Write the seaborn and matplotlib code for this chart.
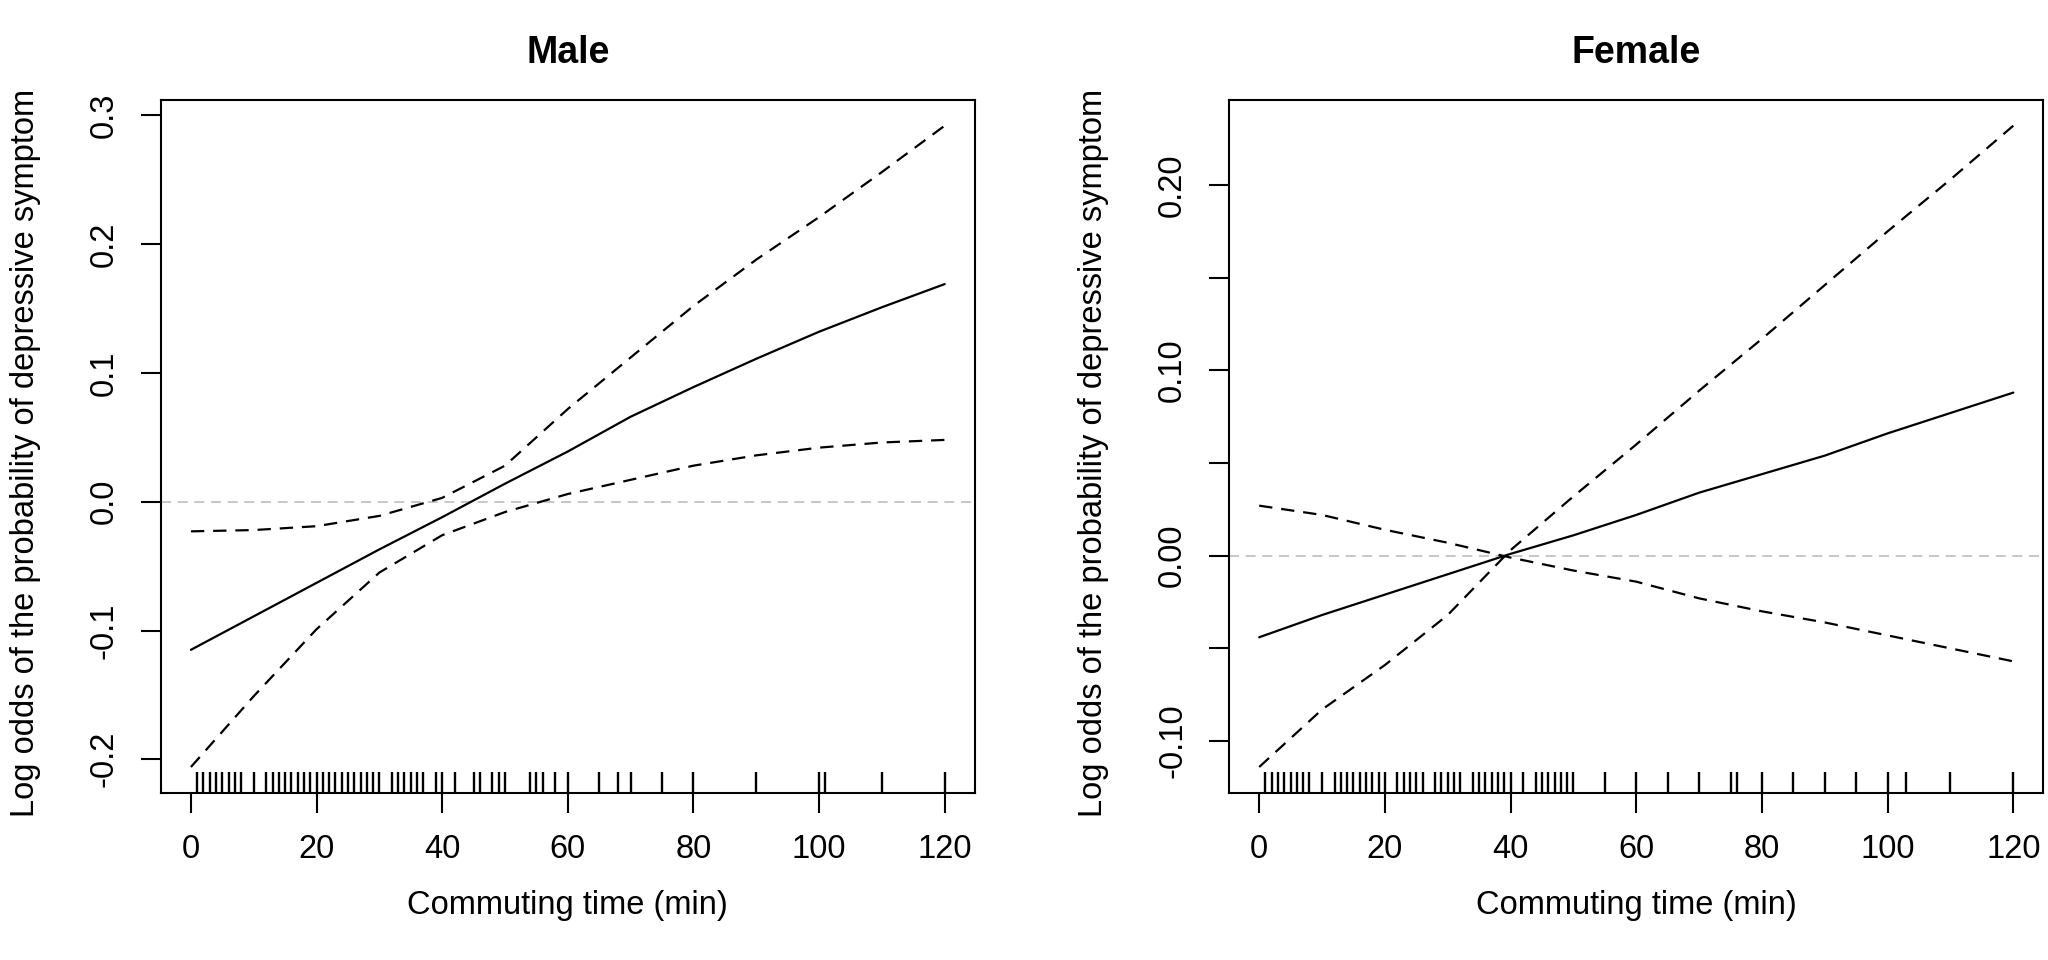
#Importing the Dependencies
import numpy as np
import pandas as pd
import matplotlib
matplotlib.use("Agg")
import matplotlib.pyplot as plt
import seaborn as sns

#Data
commute_min = [0, 10, 20, 30, 40, 50, 60, 70, 80, 90, 100, 110, 120]

male_fit = [-0.115, -0.089, -0.063, -0.037, -0.012, 0.014, 0.039, 0.066, 0.089, 0.111, 0.132, 0.151, 0.169]
male_upper = [-0.023, -0.022, -0.019, -0.011, 0.003, 0.028, 0.072, 0.112, 0.152, 0.188, 0.221, 0.256, 0.292]
male_lower = [-0.206, -0.151, -0.099, -0.055, -0.026, -0.008, 0.006, 0.017, 0.028, 0.036, 0.042, 0.046, 0.048]

female_fit = [-0.044, -0.032, -0.021, -0.010, 0.001, 0.011, 0.022, 0.034, 0.044, 0.054, 0.066, 0.077, 0.088]
female_upper = [-0.114, -0.083, -0.059, -0.032, 0.003, 0.032, 0.060, 0.089, 0.117, 0.146, 0.175, 0.203, 0.232]
female_lower = [0.027, 0.022, 0.014, 0.007, -0.001, -0.008, -0.014, -0.023, -0.030, -0.036, -0.043, -0.050, -0.057]

male_rug = [1, 2, 3, 4, 5, 6, 7, 8, 10, 12, 13, 14, 15, 16, 17, 18, 19, 20, 21, 22, 23, 24, 25,
            26, 27, 28, 29, 30, 32, 33, 34, 35, 36, 37, 39, 40, 42, 45, 46, 48, 49, 50, 54, 55,
            56, 58, 60, 65, 68, 70, 75, 80, 90, 100, 101, 110, 120]
female_rug = [1, 2, 3, 4, 5, 6, 7, 8, 10, 12, 13, 14, 15, 16, 17, 18, 19, 20, 22, 23, 24, 25, 26,
              28, 29, 30, 31, 32, 34, 35, 36, 37, 38, 39, 40, 42, 44, 45, 46, 47, 48, 49, 50, 55,
              60, 65, 70, 75, 76, 80, 85, 90, 95, 100, 103, 110, 120]

x_ticks = [0, 20, 40, 60, 80, 100, 120]
male_yticks = [-0.2, -0.1, 0.0, 0.1, 0.2, 0.3]
male_ylabels = ["-0.2", "-0.1", "0.0", "0.1", "0.2", "0.3"]
female_yticks = [-0.10, -0.05, 0.00, 0.05, 0.10, 0.15, 0.20]
female_ylabels = ["-0.10", "", "0.00", "", "0.10", "", "0.20"]

male = pd.DataFrame({"x": commute_min, "fit": male_fit, "upper": male_upper, "lower": male_lower})
female = pd.DataFrame({"x": commute_min, "fit": female_fit, "upper": female_upper, "lower": female_lower})

#Style (base R look)
sns.set_style("ticks")
plt.rcParams["font.family"] = ["Liberation Sans", "DejaVu Sans"]
plt.rcParams["axes.linewidth"] = 1.5
plt.rcParams["text.color"] = "black"
plt.rcParams["axes.labelcolor"] = "black"

fig = plt.figure(figsize=(20.48, 9.6), dpi=100)
ax_m = fig.add_axes([0.0785, 0.1743, 0.3975, 0.7215])
ax_f = fig.add_axes([0.6001, 0.1743, 0.3977, 0.7215])

dash = (0, (6, 4))


def draw_panel(ax, df, rug, title, yticks, ylabels):
    ax.axhline(0, color="#bdbdbd", linewidth=1.2, linestyle=dash, zorder=1)
    sns.lineplot(data=df, x="x", y="fit", ax=ax, color="black", linewidth=1.6)
    sns.lineplot(data=df, x="x", y="upper", ax=ax, color="black", linewidth=1.6, linestyle=dash)
    sns.lineplot(data=df, x="x", y="lower", ax=ax, color="black", linewidth=1.6, linestyle=dash)
    sns.rugplot(x=rug, ax=ax, height=0.03, color="black", linewidth=1.7, expand_margins=False)

    # R style 4% axis extension
    lo = min(df["lower"].min(), df["fit"].min(), df["upper"].min())
    hi = max(df["lower"].max(), df["fit"].max(), df["upper"].max())
    r = hi - lo
    ax.set_ylim(lo - 0.04 * r, hi + 0.04 * r)
    ax.set_xlim(-0.04 * 120, 120 * 1.04)

    ax.set_xticks(x_ticks)
    ax.set_xticklabels([str(t) for t in x_ticks])
    ax.set_yticks(yticks)
    ax.set_yticklabels(ylabels, rotation=90, va="center")
    ax.tick_params(axis="both", length=14.5, width=1.5, pad=15, labelsize=23.5,
                   color="black", labelcolor="black")

    for s in ax.spines.values():
        s.set_color("black")
        s.set_linewidth(1.5)

    ax.set_title(title, fontsize=27, fontweight="bold", pad=27, color="black")
    ax.set_xlabel("Commuting time (min)", fontsize=23.5)
    ax.set_ylabel("Log odds of the probability of depressive symptom", fontsize=23.5)
    ax.xaxis.set_label_coords(0.5, -0.14)
    ax.yaxis.set_label_coords(-0.147, 0.49)


draw_panel(ax_m, male, male_rug, "Male", male_yticks, male_ylabels)
draw_panel(ax_f, female, female_rug, "Female", female_yticks, female_ylabels)

plt.savefig("out.png", dpi=100)
